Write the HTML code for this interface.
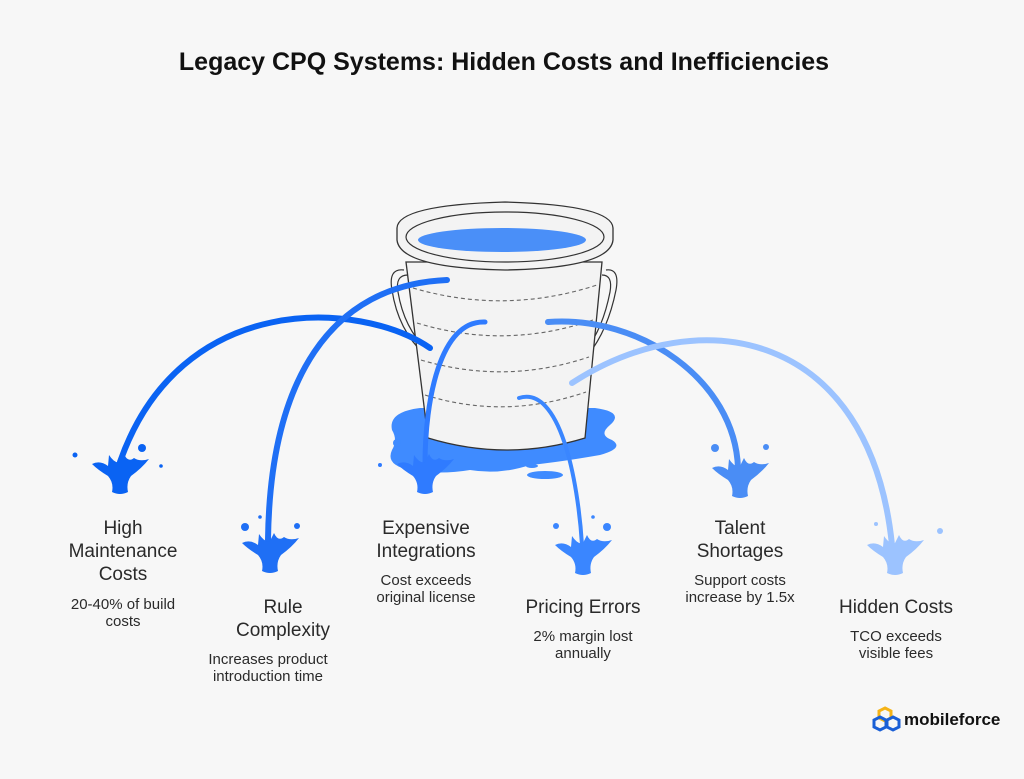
<!DOCTYPE html>
<html><head><meta charset="utf-8"><style>
html,body{margin:0;padding:0;background:#f7f7f7;}
svg{display:block}
text{font-family:"Liberation Sans",sans-serif;fill:#2a2a2a}
.h{font-size:19px;text-anchor:middle}
.s{font-size:15px;text-anchor:middle}
</style></head><body>
<svg width="1024" height="779" viewBox="0 0 1024 779">
<defs>
<path id="sp" d="M-28,-2 Q-20,-6 -12,0 L-11,-11 Q-5,-2 0,-4 L4,-12 Q8,-3 14,-8 Q20,-4 29,-7 Q22,2 11,10 Q6,17 8,26 Q0,30 -8,26 Q-6,17 -12,10 Q-22,4 -28,-2Z"/>
</defs>
<rect width="1024" height="779" fill="#f7f7f7"/>
<text x="504" y="70" style="font-size:25px;font-weight:bold;text-anchor:middle;fill:#111">Legacy CPQ Systems: Hidden Costs and Inefficiencies</text>

<!-- puddle -->
<path d="M392,430 Q388,412 420,408 L595,408 Q625,412 610,425 Q598,435 612,440 Q625,448 600,455 Q560,462 530,465 Q500,475 470,470 Q440,475 410,470 Q385,465 392,450 Q398,440 392,430Z" fill="#3f8bff"/>
<ellipse cx="545" cy="475" rx="18" ry="4" fill="#3f8bff"/>
<ellipse cx="532" cy="466" rx="6" ry="2" fill="#3f8bff"/>
<circle cx="397" cy="443" r="4" fill="#3f8bff"/>
<!-- handles -->
<path d="M404,270 Q388,268 392,290 Q398,330 425,355" fill="none" stroke="#333" stroke-width="1.2"/>
<path d="M408,275 Q395,275 398,292 Q404,328 427,350" fill="none" stroke="#333" stroke-width="1.2"/>
<path d="M606,270 Q620,268 616,290 Q608,330 588,355" fill="none" stroke="#333" stroke-width="1.2"/>
<path d="M602,275 Q613,275 610,292 Q603,328 586,350" fill="none" stroke="#333" stroke-width="1.2"/>
<!-- body -->
<path d="M406,262 L428,438 Q507,462 585,438 L602,262Z" fill="#f3f3f3" stroke="#333" stroke-width="1.3"/>
<g fill="none" stroke="#666" stroke-width="1.1" stroke-dasharray="4,3">
<path d="M413,288 Q505,315 597,285"/>
<path d="M417,323 Q505,350 593,320"/>
<path d="M421,360 Q505,385 589,357"/>
<path d="M425,395 Q505,420 586,392"/>
</g>
<!-- rim -->
<path d="M397,228 Q398,205 505,202 Q612,205 613,228 L613,240 Q610,268 505,270 Q400,268 397,240Z" fill="#f3f3f3" stroke="#333" stroke-width="1.3"/>
<ellipse cx="505" cy="237" rx="99" ry="25" fill="#f3f3f3" stroke="#333" stroke-width="1.2"/>
<ellipse cx="502" cy="240" rx="84" ry="12" fill="#4a8ff8"/>

<!-- streams -->
<g fill="none" stroke-linecap="round">
<path d="M430,348 C360,300 180,290 120,462" stroke="#0a63f3" stroke-width="6"/>
<path d="M447,280 C330,285 270,380 268,540" stroke="#1f6ff5" stroke-width="6"/>
<path d="M485,322 C440,320 425,400 425,465" stroke="#2f7bff" stroke-width="5" />
<path d="M519,398 C560,385 578,480 582,545" stroke="#3a86ff" stroke-width="4"/>
<path d="M548,322 C640,315 735,380 738,468" stroke="#4a8df5" stroke-width="6"/>
<path d="M572,383 C700,300 870,330 892,545" stroke="#9cc3ff" stroke-width="6"/>
</g>
<!-- splashes -->
<g fill="#0a63f3"><use href="#sp" x="120" y="466"/><circle cx="142" cy="448" r="4"/><circle cx="75" cy="455" r="2.5"/><circle cx="161" cy="466" r="1.8"/></g>
<g fill="#1f6ff5"><use href="#sp" x="270" y="545"/><circle cx="245" cy="527" r="4"/><circle cx="260" cy="517" r="1.8"/><circle cx="297" cy="526" r="3"/></g>
<g fill="#2f7bff"><use href="#sp" x="425" y="466"/><circle cx="380" cy="465" r="2"/></g>
<g fill="#3a86ff"><use href="#sp" x="583" y="547"/><circle cx="556" cy="526" r="3"/><circle cx="593" cy="517" r="1.8"/><circle cx="607" cy="527" r="4"/></g>
<g fill="#4a8df5"><use href="#sp" x="740" y="470"/><circle cx="715" cy="448" r="4"/><circle cx="766" cy="447" r="3"/></g>
<g fill="#9cc3ff"><use href="#sp" x="895" y="547"/><circle cx="876" cy="524" r="2"/><circle cx="940" cy="531" r="3"/></g>

<!-- labels -->
<text class="h" x="123" y="534">High</text>
<text class="h" x="123" y="557">Maintenance</text>
<text class="h" x="123" y="580">Costs</text>
<text class="s" x="123" y="609">20-40% of build</text>
<text class="s" x="123" y="626">costs</text>

<text class="h" x="283" y="613">Rule</text>
<text class="h" x="283" y="636">Complexity</text>
<text class="s" x="268" y="664">Increases product</text>
<text class="s" x="268" y="681">introduction time</text>

<text class="h" x="426" y="534">Expensive</text>
<text class="h" x="426" y="557">Integrations</text>
<text class="s" x="426" y="585">Cost exceeds</text>
<text class="s" x="426" y="602">original license</text>

<text class="h" x="583" y="613">Pricing Errors</text>
<text class="s" x="583" y="641">2% margin lost</text>
<text class="s" x="583" y="658">annually</text>

<text class="h" x="740" y="534">Talent</text>
<text class="h" x="740" y="557">Shortages</text>
<text class="s" x="740" y="585">Support costs</text>
<text class="s" x="740" y="602">increase by 1.5x</text>

<text class="h" x="896" y="613">Hidden Costs</text>
<text class="s" x="896" y="641">TCO exceeds</text>
<text class="s" x="896" y="658">visible fees</text>

<!-- logo -->
<g stroke-width="3" fill="none">
<polygon points="885,708 891,711 891,718 885,721 879,718 879,711" stroke="#f5b316"/>
<polygon points="880,717 886,720 886,727 880,730 874,727 874,720" stroke="#1a5fd6"/>
<polygon points="893,717 899,720 899,727 893,730 887,727 887,720" stroke="#1a5fd6"/>
</g>
<text x="904" y="725" style="font-size:17px;font-weight:bold;fill:#111">mobileforce</text>
</svg>
</body></html>
